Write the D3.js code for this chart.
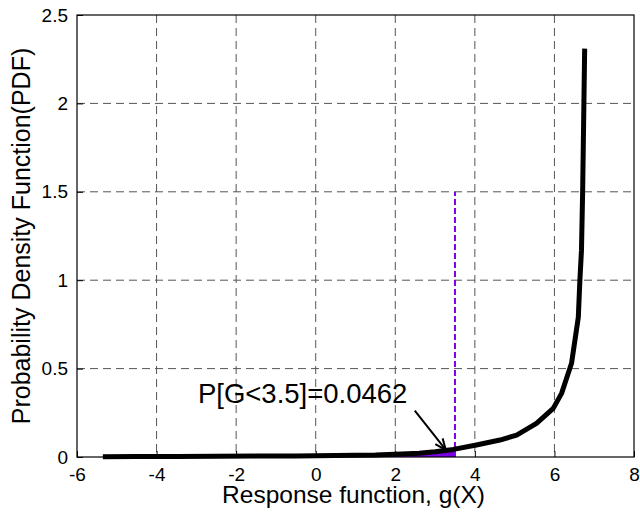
<!DOCTYPE html>
<html>
<head>
<meta charset="utf-8">
<script src="https://cdn.jsdelivr.net/npm/d3@7"></script>
<style>
  body { margin: 0; background: #fff; }
  text { font-family: "Liberation Sans", Arial, Helvetica, sans-serif; }
</style>
</head>
<body>
<div id="chart"></div>
<script>
const width = 640,
      height = 515,
      margin = { top: 15, right: 6, bottom: 58, left: 77 };

const innerWidth = width - (margin.right + margin.left),
      innerHeight = height - (margin.top + margin.bottom);

// data
const gValues = [-5.35, -4.5, -3.5, -2.5, -1.5, -0.5, 0.5, 1.5, 2.0, 2.6, 3.0, 3.46, 4.04, 4.63, 5.05, 5.55, 5.97, 6.18, 6.43, 6.6, 6.64, 6.68, 6.71, 6.76];
const pdfValues = [0.002, 0.003, 0.003, 0.004, 0.005, 0.006, 0.008, 0.011, 0.015, 0.021, 0.03, 0.043, 0.068, 0.096, 0.124, 0.19, 0.275, 0.36, 0.53, 0.79, 1.0, 1.17, 1.51, 2.31];
const xTicks = [-6, -4, -2, 0, 2, 4, 6, 8],
      yTicks = [0, 0.5, 1, 1.5, 2, 2.5];
const threshold = 3.5,
      thresholdLineTop = 1.5,
      probLabel = 'P[G<3.5]=0.0462',
      labelAt = [-2.96, 0.307],
      arrowFrom = [2.49, 0.262],
      arrowTo = [3.27, 0.04];

const svg = d3.select('#chart').append('svg')
    .attr('width', width)
    .attr('height', height);

const plot = svg.append('g')
    .attr('transform', `translate(${margin.left}, ${margin.top})`);

const xScale = d3.scaleLinear().domain([-6, 8]).range([0, innerWidth]),
      yScale = d3.scaleLinear().domain([0, 2.5]).range([innerHeight, 0]);

const data = gValues.map((g, i) => ({ g: g, p: pdfValues[i] }));

// grid
plot.selectAll('.vgrid')
  .data(xTicks.slice(1, -1))
  .enter().append('line')
    .attr('x1', d => xScale(d)).attr('x2', d => xScale(d))
    .attr('y1', 0).attr('y2', innerHeight)
    .attr('stroke', '#555').attr('stroke-dasharray', '8,5');

plot.selectAll('.hgrid')
  .data(yTicks.slice(1, -1))
  .enter().append('line')
    .attr('x1', 0).attr('x2', innerWidth)
    .attr('y1', d => yScale(d)).attr('y2', d => yScale(d))
    .attr('stroke', '#555').attr('stroke-dasharray', '8,5');

// shaded area below threshold
const below = data.filter(d => d.g <= threshold);
const last = data.find(d => d.g > threshold);
const prev = below[below.length - 1];
const pAt = prev.p + (last.p - prev.p) * (threshold - prev.g) / (last.g - prev.g);
below.push({ g: threshold, p: pAt });

plot.append('path')
  .datum(below)
  .attr('fill', '#7b00e6')
  .attr('d', d3.area().x(d => xScale(d.g)).y0(yScale(0)).y1(d => yScale(d.p)));

// threshold line
plot.append('line')
  .attr('x1', xScale(threshold)).attr('x2', xScale(threshold))
  .attr('y1', yScale(0)).attr('y2', yScale(thresholdLineTop))
  .attr('stroke', '#7b00e6').attr('stroke-width', 2)
  .attr('stroke-dasharray', '6,3');

// pdf curve
plot.append('path')
  .datum(data)
  .attr('fill', 'none')
  .attr('stroke', '#000')
  .attr('stroke-width', 5)
  .attr('stroke-linejoin', 'round')
  .attr('d', d3.line().x(d => xScale(d.g)).y(d => yScale(d.p)));

// axes box
plot.append('rect')
  .attr('width', innerWidth).attr('height', innerHeight)
  .attr('fill', 'none').attr('stroke', '#000').attr('stroke-width', 1.2);

const fmt = d => String(d);
const xAxis = plot.append('g')
  .attr('transform', `translate(0, ${innerHeight})`)
  .call(d3.axisBottom(xScale).tickValues(xTicks).tickFormat(fmt).tickSizeInner(-6).tickSizeOuter(0).tickPadding(11));
const yAxis = plot.append('g')
  .call(d3.axisLeft(yScale).tickValues(yTicks).tickFormat(fmt).tickSizeInner(-6).tickSizeOuter(0).tickPadding(9));

[xAxis, yAxis].forEach(ax => {
  ax.select('.domain').remove();
  ax.selectAll('text').attr('font-size', 19).attr('fill', '#000')
    .style('font-family', '"Liberation Sans", Arial, sans-serif');
});

// annotation
plot.append('text')
  .attr('x', xScale(labelAt[0])).attr('y', yScale(labelAt[1]))
  .attr('font-size', 27.5)
  .text(probLabel);

const ax1 = xScale(arrowFrom[0]), ay1 = yScale(arrowFrom[1]),
      ax2 = xScale(arrowTo[0]), ay2 = yScale(arrowTo[1]);
const ang = Math.atan2(ay2 - ay1, ax2 - ax1), hl = 12;
plot.append('line')
  .attr('x1', ax1).attr('y1', ay1).attr('x2', ax2).attr('y2', ay2)
  .attr('stroke', '#000').attr('stroke-width', 2);
plot.append('path')
  .attr('d', `M${ax2 - hl * Math.cos(ang - 0.4)},${ay2 - hl * Math.sin(ang - 0.4)}L${ax2},${ay2}L${ax2 - hl * Math.cos(ang + 0.4)},${ay2 - hl * Math.sin(ang + 0.4)}`)
  .attr('fill', 'none').attr('stroke', '#000').attr('stroke-width', 2);

// axis labels
svg.append('text')
  .attr('x', margin.left + innerWidth / 2 - 2).attr('y', 503)
  .attr('text-anchor', 'middle').attr('font-size', 24.5)
  .text('Response function, g(X)');

svg.append('text')
  .attr('transform', `translate(30, ${margin.top + innerHeight / 2}) rotate(-90)`)
  .attr('text-anchor', 'middle').attr('font-size', 25)
  .text('Probability Density Function(PDF)');
</script>
</body>
</html>
